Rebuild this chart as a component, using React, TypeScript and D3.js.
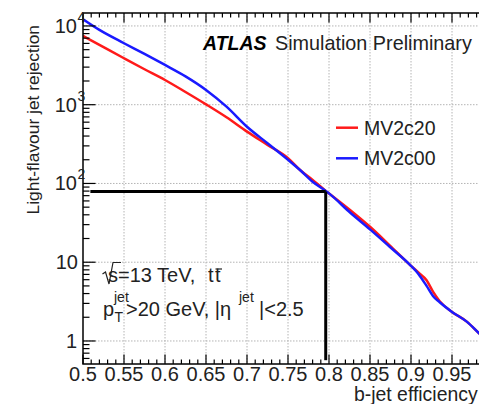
import React from 'react';
import * as d3 from 'd3';

// b-jet efficiency working points
const efficiency = [
  0.5, 0.52, 0.55, 0.575, 0.6, 0.625, 0.65, 0.675, 0.7, 0.725, 0.75, 0.765, 0.78,
  0.796, 0.8, 0.826, 0.85, 0.874, 0.9, 0.909, 0.919, 0.927, 0.935, 0.95, 0.968, 0.983, 1.0,
];
// light-flavour jet rejection for each tagger
const mv2c20 = [
  7460, 5750, 3890, 2820, 2060, 1450, 1010, 692, 455, 309, 209, 147, 111,
  80.5, 74.8, 45.8, 28.2, 16.4, 9.0, 7.4, 5.9, 4.2, 3.2, 2.34, 1.76, 1.25, 0.86,
];
const mv2c00 = [
  12160, 8900, 6030, 4420, 3200, 2290, 1540, 944, 525, 324, 200, 147, 105,
  80.5, 74.8, 42.4, 26.1, 15.7, 9.0, 7.1, 5.0, 3.7, 3.1, 2.34, 1.76, 1.25, 0.86,
];
const seriesNames = ['MV2c20', 'MV2c00'];
const seriesColors = ['#ff1a1a', '#1a1aff'];

const xTicks = [0.5, 0.55, 0.6, 0.65, 0.7, 0.75, 0.8, 0.85, 0.9, 0.95];
const xTickLabels = ['0.5', '0.55', '0.6', '0.65', '0.7', '0.75', '0.8', '0.85', '0.9', '0.95'];
const yDecades = [1, 10, 100, 1000, 10000];
const workingPoint = { eff: 0.796, rej: 79 };

const FONT = '"Liberation Sans", Arial, Helvetica, sans-serif';

export default function App() {
  const W = 479;
  const H = 404;
  const left = 83;
  const right = 493;
  const top = 13;
  const bottom = 364;

  const x = d3.scaleLinear().domain([0.5, 1.0]).range([left, right]);
  const y = d3.scaleLog().domain([0.51, 14600]).range([bottom, top]);

  const line = d3
    .line<[number, number]>()
    .x((d) => x(d[0]))
    .y((d) => y(d[1]))
    .curve(d3.curveMonotoneX);

  const series = [mv2c20, mv2c00].map((vals) =>
    efficiency.map((e, i) => [e, vals[i]] as [number, number])
  );

  // minor ticks
  const xMinor = d3.range(50, 101).map((v) => v / 100).filter((v) => Math.round(v * 100) % 5 !== 0);
  const yMinor: number[] = [];
  [0.1, 1, 10, 100, 1000].forEach((dec) => {
    for (let k = 2; k <= 9; k++) {
      const v = dec * k;
      if (v >= 0.51 && v <= 14600) yMinor.push(v);
    }
  });

  const grid = '#b4b4b4';

  return (
    <svg
      width={W}
      height={H}
      style={{ position: 'absolute', left: 0, top: 0, background: '#fff' }}
      fontFamily={FONT}
    >
      <defs>
        <clipPath id="plotArea">
          <rect x={left} y={top} width={right - left} height={bottom - top} />
        </clipPath>
      </defs>

      {/* grid */}
      {xTicks.slice(1).concat([1.0]).map((t) => (
        <line key={'gx' + t} x1={x(t)} x2={x(t)} y1={top} y2={bottom} stroke={grid} strokeDasharray="1.5 1.5" strokeWidth={1} />
      ))}
      {yDecades.map((t) => (
        <line key={'gy' + t} x1={left} x2={right} y1={y(t)} y2={y(t)} stroke={grid} strokeDasharray="1.5 1.5" strokeWidth={1} />
      ))}

      {/* curves */}
      <g clipPath="url(#plotArea)">
        {series.map((pts, i) => (
          <path key={seriesNames[i]} d={line(pts) || ''} fill="none" stroke={seriesColors[i]} strokeWidth={2.5} />
        ))}
      </g>

      {/* working point */}
      <line x1={x(0.509)} x2={x(workingPoint.eff)} y1={y(workingPoint.rej)} y2={y(workingPoint.rej)} stroke="#000" strokeWidth={3} />
      <line x1={x(workingPoint.eff)} x2={x(workingPoint.eff)} y1={y(workingPoint.rej)} y2={y(0.57)} stroke="#000" strokeWidth={3} />

      {/* frame */}
      <rect x={left} y={top} width={right - left} height={bottom - top} fill="none" stroke="#000" strokeWidth={1.5} />

      {/* x ticks */}
      {xTicks.concat([1.0]).map((t) => (
        <g key={'xt' + t}>
          <line x1={x(t)} x2={x(t)} y1={bottom} y2={bottom - 9.5} stroke="#000" strokeWidth={1.2} />
          <line x1={x(t)} x2={x(t)} y1={top} y2={top + 9.5} stroke="#000" strokeWidth={1.2} />
        </g>
      ))}
      {xMinor.map((t) => (
        <g key={'xm' + t}>
          <line x1={x(t)} x2={x(t)} y1={bottom} y2={bottom - 4.5} stroke="#000" strokeWidth={1.2} />
          <line x1={x(t)} x2={x(t)} y1={top} y2={top + 4.5} stroke="#000" strokeWidth={1.2} />
        </g>
      ))}
      {xTicks.map((t, i) => (
        <text key={'xl' + t} x={x(t)} y={381} textAnchor="middle" fontSize={20} fill="#222">
          {xTickLabels[i]}
        </text>
      ))}
      <text x={354} y={401} fontSize={19.4} fill="#222">b-jet efficiency</text>

      {/* y ticks */}
      {yDecades.map((t) => (
        <line key={'yt' + t} x1={left} x2={left + 12.5} y1={y(t)} y2={y(t)} stroke="#000" strokeWidth={1.2} />
      ))}
      {yMinor.map((t) => (
        <line key={'ym' + t} x1={left} x2={left + 6.5} y1={y(t)} y2={y(t)} stroke="#000" strokeWidth={1.2} />
      ))}
      <text x={77} y={y(1) + 7} textAnchor="end" fontSize={20} fill="#222">1</text>
      <text x={78} y={y(10) + 7} textAnchor="end" fontSize={20} fill="#222">10</text>
      {[2, 3, 4].map((p) => (
        <g key={'yl' + p}>
          <text x={77} y={y(Math.pow(10, p)) + 7} textAnchor="end" fontSize={20} fill="#222">10</text>
          <text x={77.5} y={y(Math.pow(10, p)) - 4} fontSize={14} fill="#222">{p}</text>
        </g>
      ))}
      <text transform="translate(39,25) rotate(-90)" textAnchor="end" fontSize={17.4} fill="#222">
        Light-flavour jet rejection
      </text>

      {/* labels */}
      <text x={203} y={50} fontSize={19.5} fontWeight="bold" fontStyle="italic" fill="#000">ATLAS</text>
      <text x={275} y={50} fontSize={19.8} fill="#222">Simulation Preliminary</text>

      {seriesNames.map((n, i) => (
        <g key={'lg' + n}>
          <line x1={336} x2={358} y1={127.7 + i * 30.6} y2={127.7 + i * 30.6} stroke={seriesColors[i]} strokeWidth={2.5} />
          <text x={364} y={134.5 + i * 30.6} fontSize={19.5} fill="#222">{n}</text>
        </g>
      ))}

      {/* sqrt(s) = 13 TeV, ttbar */}
      <path d="M102.5,274 L105.5,272 L109,284 L113,262.5 L121,262.5" fill="none" stroke="#222" strokeWidth={1.2} />
      <text x={108} y={282} fontSize={20} fill="#222">s=13 TeV,</text>
      <text x={208} y={282} fontSize={20} fill="#222">t</text>
      <text x={215} y={282} fontSize={20} fill="#222">t</text>
      <line x1={215.5} x2={222} y1={269} y2={269} stroke="#222" strokeWidth={1.2} />

      {/* pT and eta cuts */}
      <text x={103} y={316} fontSize={20} fill="#222">p</text>
      <text x={114} y={302} fontSize={14} fill="#222">jet</text>
      <text x={114.5} y={322} fontSize={14} fill="#222">T</text>
      <text x={126} y={316} fontSize={20} fill="#222">&gt;20 GeV, |η</text>
      <text x={239} y={302} fontSize={14} fill="#222">jet</text>
      <text x={259} y={316} fontSize={20} fill="#222">|&lt;2.5</text>
    </svg>
  );
}
